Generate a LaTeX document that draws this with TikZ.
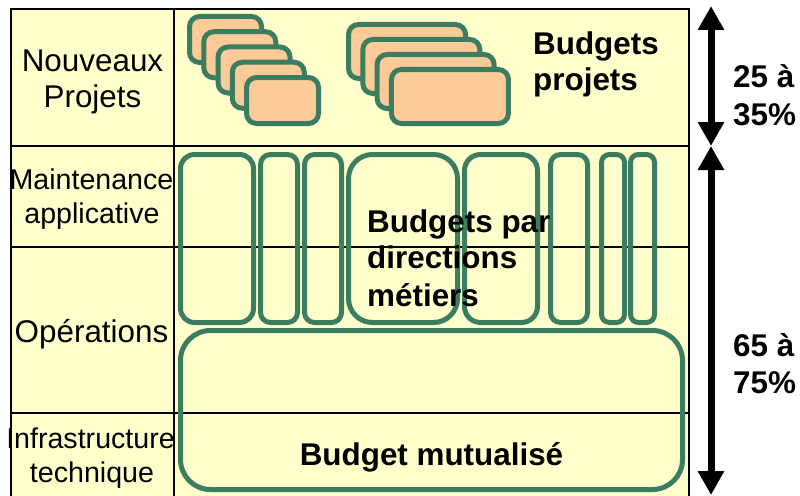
\documentclass[tikz,border=0pt]{standalone}
\usepackage{fontspec}
\setmainfont{Liberation Sans}
\usetikzlibrary{arrows.meta}

\definecolor{fondjaune}{HTML}{FFFFCC}
\definecolor{vertbudget}{HTML}{3C7D62}
\definecolor{orangeprojet}{HTML}{FCCB98}

\tikzset{
  projet/.style={draw=vertbudget,line width=5pt,fill=orangeprojet,rounded corners=10pt},
  metier/.style={draw=vertbudget,line width=5pt},
  rowtext/.style={font=\fontsize{31.4}{37}\selectfont,anchor=base,inner sep=0pt},
  smallrow/.style={rowtext,font=\fontsize{28.6}{34}\selectfont},
  budget/.style={font=\bfseries\fontsize{31.4}{37}\selectfont,anchor=base west,inner sep=0pt},
  cote/.style={line width=7pt,{Triangle[width=25pt,length=24pt]}-{Triangle[width=25pt,length=24pt]}}
}

\begin{document}
\begin{tikzpicture}[x=1pt,y=-1pt]
	\useasboundingbox (0,0) rectangle (800,495);

	% grille
	\fill[fondjaune] (11,9) rectangle (689,497);
	\draw[line width=2pt] (11,498) -- (11,9) -- (689,9) -- (689,498);
	\draw[line width=1.6pt] (174,9) -- (174,498);
	\draw[line width=1.6pt] (11,146) -- (689,146);
	\draw[line width=1.6pt] (11,247) -- (689,247);
	\draw[line width=1.6pt] (11,413) -- (689,413);

	% budgets projets
	\draw[projet] (189.5,16.5) rectangle (261.5,62.5);
	\draw[projet] (203.75,31.75) rectangle (275.75,77.75);
	\draw[projet] (218,47) rectangle (290,93);
	\draw[projet] (232.25,62.25) rectangle (304.25,108.25);
	\draw[projet] (246.5,77.5) rectangle (318.5,123.5);

	\draw[projet] (348.5,24.5) rectangle (465.5,78.5);
	\draw[projet] (362.8,39.5) rectangle (479.8,93.5);
	\draw[projet] (377.1,54.5) rectangle (494.1,108.5);
	\draw[projet] (391.4,69.5) rectangle (508.4,123.5);

	% budgets par directions metiers
	\draw[metier,rounded corners=14pt] (180.5,154.5) rectangle (253.5,322.5);
	\draw[metier,rounded corners=10pt] (260.5,154.5) rectangle (297.5,322.5);
	\draw[metier,rounded corners=10pt] (304.5,154.5) rectangle (341.5,322.5);
	\draw[metier,rounded corners=24pt] (348.5,154.5) rectangle (457.5,322.5);
	\draw[metier,rounded corners=16pt] (464.5,154.5) rectangle (537.5,322.5);
	\draw[metier,rounded corners=10pt] (550.5,154.5) rectangle (587.5,322.5);
	\draw[metier,rounded corners=8pt] (601.5,154.5) rectangle (624.5,322.5);
	\draw[metier,rounded corners=8pt] (630.5,154.5) rectangle (654.5,322.5);

	% budget mutualise
	\draw[metier,rounded corners=30pt] (180.5,330.5) rectangle (682.5,489.5);

	% lignes
	\node[rowtext] (nouveaux) at (92.5,71) {Nouveaux};
	\node[rowtext] (projets) at (92.5,107) {Projets};
	\node[smallrow] (maintenance) at (91.5,189) {Maintenance};
	\node[smallrow] (applicative) at (92,223) {applicative};
	\node[rowtext] (operations) at (91.5,342) {Opérations};
	\node[smallrow] (infrastructure) at (90.5,448) {Infrastructure};
	\node[smallrow] (technique) at (92,482) {technique};

	\node[budget] (budgetsA) at (533,55) {Budgets};
	\node[budget] (budgetsB) at (533,90) {projets};
	\node[budget] (metiersA) at (367,232) {Budgets par};
	\node[budget] (metiersB) at (367,268) {directions};
	\node[budget] (metiersC) at (367,306) {métiers};
	\node[budget,anchor=base] (mutualise) at (431.5,465) {Budget mutualisé};

	% parts
	\coordinate (haut) at (711,6);
	\coordinate (milieu) at (711,146);
	\coordinate (bas) at (711,495);
	\draw[cote] (haut) -- (milieu);
	\draw[cote] (milieu) -- (bas);
	\node[budget] (partA) at (733,87) {25 à};
	\node[budget] (partB) at (733,125) {35\%};
	\node[budget] (partC) at (733,356) {65 à};
	\node[budget] (partD) at (733,393) {75\%};

\end{tikzpicture}
\end{document}
